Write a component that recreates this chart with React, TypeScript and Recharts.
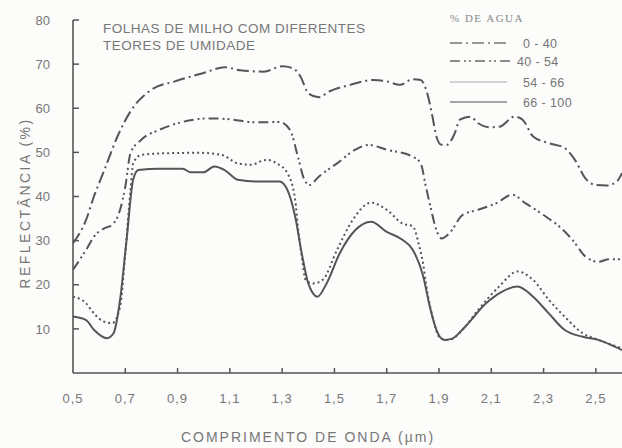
import React from 'react';
import { LineChart, Line, XAxis, YAxis, Legend } from 'recharts';

// Wavelength (µm) and reflectance (%), one pair per moisture class
const wl0_40 = [0.5, 0.55, 0.58, 0.62, 0.67, 0.72, 0.8, 0.89, 1.0, 1.08, 1.14, 1.18, 1.23, 1.3, 1.34, 1.37, 1.4, 1.44, 1.48, 1.56, 1.65, 1.7, 1.75, 1.8, 1.83, 1.855, 1.875, 1.89, 1.91, 1.93, 1.96, 1.98, 2.02, 2.05, 2.09, 2.13, 2.19, 2.22, 2.26, 2.32, 2.38, 2.42, 2.46, 2.5, 2.54, 2.58, 2.6];
const r0_40 = [29.4, 34.7, 40, 46, 53.6, 59.3, 64.2, 66.1, 68, 69.3, 68.6, 68.4, 68.3, 69.5, 69.1, 67.2, 63.4, 62.5, 63.8, 65.3, 66.4, 66.1, 65.3, 66.6, 66.4, 63.4, 58.1, 53.6, 51.7, 51.7, 54.3, 57.4, 58.1, 56.6, 55.7, 55.8, 58.1, 57.4, 53.6, 52.1, 51.0, 48.3, 44.1, 42.6, 42.5, 43.4, 45.3];

const wl40_54 = [0.5, 0.55, 0.58, 0.62, 0.65, 0.68, 0.7, 0.72, 0.76, 0.83, 0.9, 1.02, 1.1, 1.2, 1.29, 1.33, 1.36, 1.385, 1.405, 1.44, 1.51, 1.58, 1.63, 1.7, 1.8, 1.83, 1.85, 1.87, 1.89, 1.91, 1.94, 1.99, 2.05, 2.12, 2.18, 2.23, 2.3, 2.36, 2.41, 2.46, 2.51, 2.55, 2.6];
const r40_54 = [23.4, 27.9, 30.9, 32.8, 33.6, 37.0, 42.2, 49.8, 52.8, 55.1, 56.6, 57.7, 57.5, 56.8, 56.9, 55.1, 49.1, 43.8, 42.6, 44.5, 47.5, 50.6, 51.7, 50.6, 49.0, 47.5, 42.2, 37.0, 32.4, 30.5, 31.7, 35.8, 37.0, 38.5, 40.4, 38.5, 35.8, 33.2, 30.2, 26.4, 25.2, 25.8, 25.8];

const wl54_66 = [0.5, 0.55, 0.58, 0.62, 0.65, 0.68, 0.7, 0.72, 0.73, 0.76, 0.85, 0.98, 1.07, 1.13, 1.18, 1.24, 1.28, 1.32, 1.35, 1.36, 1.375, 1.39, 1.42, 1.455, 1.51, 1.57, 1.64, 1.7, 1.76, 1.8, 1.825, 1.84, 1.85, 1.875, 1.905, 1.94, 1.99, 2.05, 2.13, 2.2, 2.26, 2.32, 2.38, 2.45, 2.51, 2.6];
const r54_66 = [17.3, 15.8, 13.5, 11.6, 11.3, 15.0, 27.1, 41.5, 47.5, 49.4, 49.8, 49.9, 49.4, 47.5, 47.2, 48.3, 47.5, 45.3, 39.2, 33.2, 26.4, 21.1, 20.3, 21.1, 27.9, 34.7, 38.6, 37.0, 33.9, 33.2, 28.6, 24.5, 20.3, 12.8, 7.9, 7.5, 9.8, 14.3, 19.6, 23.0, 21.1, 16.6, 12.8, 9.0, 7.5, 5.6];

const wl66_100 = [0.5, 0.55, 0.58, 0.63, 0.655, 0.68, 0.705, 0.73, 0.75, 0.83, 0.92, 0.95, 1.0, 1.04, 1.08, 1.13, 1.2, 1.29, 1.32, 1.35, 1.375, 1.4, 1.435, 1.47, 1.52, 1.58, 1.64, 1.7, 1.76, 1.8, 1.84, 1.865, 1.89, 1.92, 1.95, 2.0, 2.08, 2.14, 2.2, 2.26, 2.32, 2.38, 2.45, 2.51, 2.56, 2.6];
const r66_100 = [12.8, 12.0, 9.8, 7.9, 9.0, 16.6, 30.2, 43.8, 46.0, 46.3, 46.3, 45.5, 45.5, 46.8, 46.0, 43.8, 43.4, 43.4, 41.5, 35.4, 27.1, 20.3, 17.3, 20.3, 27.1, 32.4, 34.3, 32.0, 30.2, 27.9, 21.8, 15.0, 9.8, 7.5, 7.8, 10.5, 15.8, 18.4, 19.6, 17.3, 13.5, 9.8, 8.2, 7.5, 6.3, 5.2];

const xTicks = [0.5, 0.7, 0.9, 1.1, 1.3, 1.5, 1.7, 1.9, 2.1, 2.3, 2.5];
const yTicks = [10, 20, 30, 40, 50, 60, 70, 80];
const classLabels = ['0 - 40', '40 - 54', '54 - 66', '66 - 100'];

const toPoints = (xs: number[], ys: number[]) => xs.map((x, i) => ({ x, y: ys[i] }));

const series = [
  { name: classLabels[0], data: toPoints(wl0_40, r0_40), dash: '12 4 2 4', legendLen: 57, legendColor: '#777' },
  { name: classLabels[1], data: toPoints(wl40_54, r40_54), dash: '10 4 2 3 2 4', legendLen: 63, legendColor: '#666' },
  { name: classLabels[2], data: toPoints(wl54_66, r54_66), dash: '2 3', legendLen: 57, legendColor: '#aaa' },
  { name: classLabels[3], data: toPoints(wl66_100, r66_100), dash: undefined, legendLen: 57, legendColor: '#888' },
];

const sans = '"Liberation Sans", Arial, Helvetica, sans-serif';
const ink = '#555';
const textGrey = '#777';

const Y_GAP = 23;
const X_GAP = 21;

// ticks in the figure point into the plot, so the tick marks are drawn here together with the labels
const YTick = (p: any) => {
  const axisX = p.x + Y_GAP;
  return (
    <g>
      <path d={`M${axisX},${p.y}h6`} stroke="#555" strokeWidth={1.5} fill="none" />
      <text x={p.x} y={p.y} dy="0.36em" textAnchor="end" fontFamily={sans} fontSize={13} fill={textGrey}>
        {p.payload.value}
      </text>
    </g>
  );
};

const XTick = (p: any) => {
  const axisY = p.y - X_GAP;
  const v = p.payload.value as number;
  return (
    <g>
      {v > 0.5 && <path d={`M${p.x},${axisY}v-5`} stroke="#555" strokeWidth={1.5} fill="none" />}
      <text x={p.x} y={p.y + 9} textAnchor="middle" fontFamily={sans} fontSize={13} letterSpacing={1} fill={textGrey}>
        {v.toFixed(1).replace('.', ',')}
      </text>
    </g>
  );
};

const LegendBox = () => {
  const rowsY = [43, 61, 82, 102];
  return (
    <svg width={180} height={112} style={{ display: 'block' }}>
      <text x={5} y={22} fontFamily='"Liberation Serif", "Times New Roman", serif' fontSize={11}
        letterSpacing={1.5} fill="#888">% DE AGUA</text>
      {series.map((s, i) => (
        <g key={s.name}>
          <line x1={5} x2={5 + s.legendLen} y1={rowsY[i]} y2={rowsY[i]}
            stroke={s.legendColor} strokeWidth={i === 2 ? 1 : 1.4} strokeDasharray={i < 2 ? s.dash : undefined} />
          <text x={i === 1 ? 72 : 78} y={rowsY[i] + 4.5} fontFamily={sans} fontSize={12.5}
            letterSpacing={0.4} fill={textGrey}>{s.name}</text>
        </g>
      ))}
    </svg>
  );
};

export default function App() {
  return (
    <div style={{ position: 'absolute', left: 0, top: 0, width: 622, height: 448, background: '#fcfcfb', overflow: 'hidden' }}>
      <LineChart width={622} height={448} margin={{ top: 20, right: 0, bottom: 45, left: 20 }}>
        <XAxis
          type="number"
          dataKey="x"
          domain={[0.5, 2.6]}
          ticks={xTicks}
          allowDataOverflow
          height={30}
          stroke={ink}
          strokeWidth={1.6}
          tickLine={false}
          tickSize={0}
          tickMargin={X_GAP}
          tick={XTick}
        />
        <YAxis
          type="number"
          domain={[0, 80]}
          ticks={yTicks}
          width={53}
          stroke={ink}
          strokeWidth={1.6}
          tickLine={false}
          tickSize={0}
          tickMargin={Y_GAP}
          tick={YTick}
        />
        <Legend
          layout="vertical"
          align="center"
          verticalAlign="middle"
          content={() => <LegendBox />}
          wrapperStyle={{ left: 445, top: 0, width: 180, height: 112 }}
        />
        {series.map(s => (
          <Line
            key={s.name}
            name={s.name}
            data={s.data}
            dataKey="y"
            type="monotone"
            stroke={ink}
            strokeWidth={2}
            strokeDasharray={s.dash}
            dot={false}
            activeDot={false}
            isAnimationActive={false}
          />
        ))}
      </LineChart>
      <svg width={622} height={448} style={{ position: 'absolute', left: 0, top: 0, pointerEvents: 'none' }}>
        <text x={103} y={33} fontFamily={sans} fontSize={13.5} letterSpacing={0.5} fill={textGrey}>
          FOLHAS DE MILHO COM DIFERENTES
        </text>
        <text x={103} y={50} fontFamily={sans} fontSize={13.5} letterSpacing={0.5} fill={textGrey}>
          TEORES DE UMIDADE
        </text>
        <text x={25} y={203} transform="rotate(-90 25 203)" textAnchor="middle" dominantBaseline="central"
          fontFamily={sans} fontSize={14} letterSpacing={2.5} fill={textGrey}>
          REFLECTÂNCIA (%)
        </text>
        <text x={308} y={442} textAnchor="middle" fontFamily={sans} fontSize={14} letterSpacing={2} fill={textGrey}>
          COMPRIMENTO DE ONDA (µm)
        </text>
      </svg>
    </div>
  );
}
